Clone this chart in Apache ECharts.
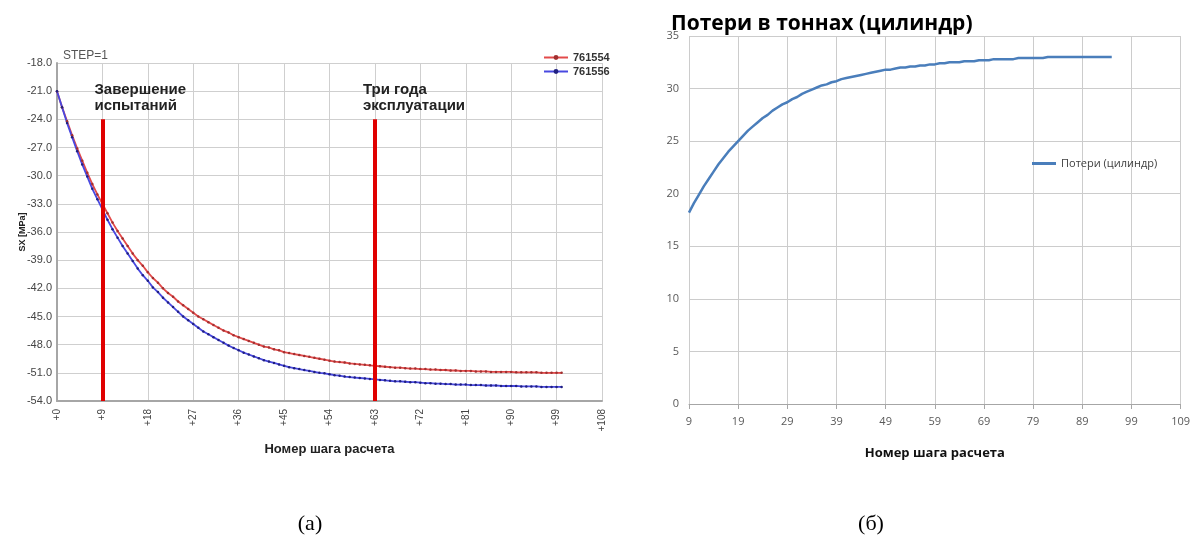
<!DOCTYPE html>
<html><head><meta charset="utf-8">
<script src="https://cdn.jsdelivr.net/npm/echarts@6/dist/echarts.min.js"></script>
<style>html,body{margin:0;padding:0;background:#fff}#c{width:1193px;height:545px}</style>
</head><body><div id="c"></div>
<script>
// ---- Left chart (а): SX [MPa] vs step, steps 0..100 ----
const sxNames = ['761554', '761556'];
const sx761554 = [
 -21.0,-22.7,-24.2,-25.7,-27.1,-28.4,-29.7,-30.9,-32.0,-33.0,
 -34.0,-35.0,-35.9,-36.7,-37.5,-38.3,-39.0,-39.6,-40.3,-40.9,
 -41.4,-42.0,-42.5,-42.9,-43.4,-43.8,-44.2,-44.6,-45.0,-45.3,
 -45.6,-45.9,-46.2,-46.5,-46.7,-47.0,-47.2,-47.4,-47.6,-47.8,
 -48.0,-48.2,-48.3,-48.5,-48.6,-48.8,-48.9,-49.0,-49.1,-49.2,
 -49.3,-49.4,-49.5,-49.6,-49.7,-49.8,-49.85,-49.9,-50.0,-50.05,
 -50.1,-50.15,-50.2,-50.25,-50.3,-50.35,-50.4,-50.45,-50.45,-50.5,
 -50.55,-50.55,-50.6,-50.6,-50.65,-50.65,-50.7,-50.7,-50.75,-50.75,
 -50.8,-50.8,-50.8,-50.85,-50.85,-50.85,-50.9,-50.9,-50.9,-50.9,
 -50.9,-50.95,-50.95,-50.95,-50.95,-50.95,-51.0,-51.0,-51.0,-51.0,
 -51.0
];
const sx761556 = [
 -21.0,-22.7,-24.4,-25.9,-27.4,-28.8,-30.1,-31.4,-32.5,-33.6,
 -34.7,-35.7,-36.6,-37.5,-38.3,-39.1,-39.9,-40.6,-41.2,-41.9,
 -42.4,-43.0,-43.5,-44.0,-44.5,-45.0,-45.4,-45.8,-46.2,-46.6,
 -46.9,-47.2,-47.5,-47.8,-48.1,-48.35,-48.6,-48.85,-49.05,-49.25,
 -49.45,-49.65,-49.8,-49.95,-50.1,-50.25,-50.4,-50.5,-50.6,-50.7,
 -50.8,-50.9,-51.0,-51.05,-51.15,-51.25,-51.3,-51.4,-51.45,-51.5,
 -51.55,-51.6,-51.65,-51.7,-51.75,-51.8,-51.85,-51.9,-51.9,-51.95,
 -52.0,-52.0,-52.05,-52.1,-52.1,-52.15,-52.15,-52.2,-52.2,-52.25,
 -52.25,-52.25,-52.3,-52.3,-52.3,-52.35,-52.35,-52.35,-52.4,-52.4,
 -52.4,-52.4,-52.45,-52.45,-52.45,-52.45,-52.5,-52.5,-52.5,-52.5,
 -52.5
];
const leftXTicks = { min: 0, max: 108, interval: 9 };
const leftYTicks = { min: -54, max: -18, interval: 3 };
const eventMarks = [
  { step: 9,  text: 'Завершение\nиспытаний', dx: -8 },
  { step: 63, text: 'Три года\nэксплуатации', dx: -12 }
];
const eventLineFrom = -54, eventLineTo = -24;

// ---- Right chart (б): losses in tonnes, steps 9..95 ----
const lossName = 'Потери (цилиндр)';
const lossFirstStep = 9, lossLastCategory = 109;
const lossValues = [
 18.2,19.1,19.9,20.7,21.4,22.1,22.8,23.4,24.0,24.5,
 25.0,25.5,26.0,26.4,26.8,27.2,27.5,27.9,28.2,28.5,
 28.7,29.0,29.2,29.5,29.7,29.9,30.1,30.3,30.4,30.6,
 30.7,30.9,31.0,31.1,31.2,31.3,31.4,31.5,31.6,31.7,
 31.8,31.8,31.9,32.0,32.0,32.1,32.1,32.2,32.2,32.3,
 32.3,32.4,32.4,32.5,32.5,32.5,32.6,32.6,32.6,32.7,
 32.7,32.7,32.8,32.8,32.8,32.8,32.8,32.9,32.9,32.9,
 32.9,32.9,32.9,33.0,33.0,33.0,33.0,33.0,33.0,33.0,
 33.0,33.0,33.0,33.0,33.0,33.0,33.0
];
const rightYTicks = { min: 0, max: 35, interval: 5 };

// build helpers
const sxSteps = sx761554.map((_, i) => i);
const lossCategories = [];
for (let s = lossFirstStep; s <= lossLastCategory; s++) lossCategories.push(String(s));

const LF = 'Liberation Sans, Arial, sans-serif';
const RF = 'Open Sans, Noto Sans, sans-serif';

const chart = echarts.init(document.getElementById('c'), null, { renderer: 'canvas' });
chart.setOption({
  animation: false,
  backgroundColor: '#fff',
  title: [
    { text: 'Потери в тоннах (цилиндр)', left: 666, top: 9,
      textStyle: { fontFamily: RF, fontSize: 21, fontWeight: 'bold', color: '#000' } },
    { text: 'STEP=1', left: 58, top: 45,
      textStyle: { fontFamily: LF, fontSize: 12, fontWeight: 'normal', color: '#555' } },
    { text: '(а)', left: 305, top: 508, textAlign: 'center',
      textStyle: { fontFamily: 'Liberation Serif, serif', fontSize: 22, fontWeight: 'normal', color: '#000' } },
    { text: '(б)', left: 866, top: 508, textAlign: 'center',
      textStyle: { fontFamily: 'Liberation Serif, serif', fontSize: 22, fontWeight: 'normal', color: '#000' } }
  ],
  legend: [
    { data: sxNames, orient: 'vertical', left: 538, top: 47, itemGap: 3,
      itemWidth: 24, itemHeight: 6,
      textStyle: { fontFamily: LF, fontSize: 11, fontWeight: 'bold', color: '#333' } },
    { data: [{ name: lossName, icon: 'rect' }], left: 1027, top: 153, itemWidth: 24, itemHeight: 3,
      textStyle: { fontFamily: RF, fontSize: 11, color: '#404040' } }
  ],
  grid: [
    { left: 57, right: 591, top: 63, bottom: 144, containLabel: false },
    { left: 689, right: 10, top: 36, bottom: 141, containLabel: false }
  ],
  xAxis: [
    { gridIndex: 0, type: 'value', min: leftXTicks.min, max: leftXTicks.max, interval: leftXTicks.interval,
      name: 'Номер шага расчета', nameLocation: 'middle', nameGap: 42,
      nameTextStyle: { fontFamily: LF, fontSize: 13, fontWeight: 'bold', color: '#222' },
      axisLine: { show: true, lineStyle: { color: '#a6a6a6', width: 2 } },
      axisTick: { show: false },
      axisLabel: { rotate: 90, margin: 8, fontFamily: LF, fontSize: 10, color: '#444',
        formatter: v => '+' + v },
      splitLine: { show: true, lineStyle: { color: '#cfcfcf', width: 1 } } },
    { gridIndex: 1, type: 'category', data: lossCategories, boundaryGap: false,
      name: 'Номер шага расчета', nameLocation: 'middle', nameGap: 43,
      nameTextStyle: { fontFamily: RF, fontSize: 13, fontWeight: 'bold', color: '#111' },
      axisLine: { show: true, lineStyle: { color: '#a6a6a6', width: 1 } },
      axisTick: { show: true, interval: 9, length: 5, lineStyle: { color: '#a6a6a6' } },
      axisLabel: { interval: 9, margin: 12, fontFamily: RF, fontSize: 11, color: '#595959' },
      splitLine: { show: true, interval: 9, lineStyle: { color: '#cccccc', width: 1 } } }
  ],
  yAxis: [
    { gridIndex: 0, type: 'value', min: leftYTicks.min, max: leftYTicks.max, interval: leftYTicks.interval,
      name: 'SX [MPa]', nameLocation: 'middle', nameGap: 30, nameRotate: 90, nameMoveOverlap: false,
      nameTextStyle: { fontFamily: LF, fontSize: 9, fontWeight: 'bold', color: '#222' },
      axisLine: { show: true, lineStyle: { color: '#a6a6a6', width: 2 } },
      axisTick: { show: false },
      axisLabel: { margin: 5, fontFamily: LF, fontSize: 11, color: '#444',
        formatter: v => v.toFixed(1) },
      splitLine: { show: true, lineStyle: { color: '#cfcfcf', width: 1 } } },
    { gridIndex: 1, type: 'value', min: rightYTicks.min, max: rightYTicks.max, interval: rightYTicks.interval,
      axisLine: { show: false }, axisTick: { show: false },
      axisLabel: { margin: 10, fontFamily: RF, fontSize: 11, color: '#595959' },
      splitLine: { show: true, lineStyle: { color: '#cccccc', width: 1 } } }
  ],
  series: [
    { name: sxNames[0], type: 'line', xAxisIndex: 0, yAxisIndex: 0,
      data: sxSteps.map((s, i) => [s, sx761554[i]]),
      symbol: 'circle', symbolSize: 2.5, showSymbol: true,
      lineStyle: { color: '#e34a4a', width: 1.8 },
      itemStyle: { color: '#a03030' }, z: 3 },
    { name: sxNames[1], type: 'line', xAxisIndex: 0, yAxisIndex: 0,
      data: sxSteps.map((s, i) => [s, sx761556[i]]),
      symbol: 'circle', symbolSize: 2.5, showSymbol: true,
      lineStyle: { color: '#4848e0', width: 1.8 },
      itemStyle: { color: '#202080' }, z: 3 },
    { name: 'events', type: 'line', xAxisIndex: 0, yAxisIndex: 0, data: [], z: 4,
      markLine: {
        silent: true, symbol: ['none', 'none'], animation: false,
        lineStyle: { color: '#e00000', width: 4, type: 'solid' },
        label: { show: true, position: 'end', align: 'left',
          fontFamily: LF, fontSize: 15, fontWeight: 'bold', color: '#222', lineHeight: 16 },
        data: eventMarks.map(m => [
          { coord: [m.step, eventLineFrom] },
          { coord: [m.step, eventLineTo], label: { formatter: m.text, offset: [m.dx, 0] } }
        ])
      } },
    { name: lossName, type: 'line', xAxisIndex: 1, yAxisIndex: 1,
      data: lossValues, symbol: 'none',
      lineStyle: { color: '#4a7ebb', width: 2.5 },
      itemStyle: { color: '#4a7ebb' } }
  ]
});
</script>
</body></html>
